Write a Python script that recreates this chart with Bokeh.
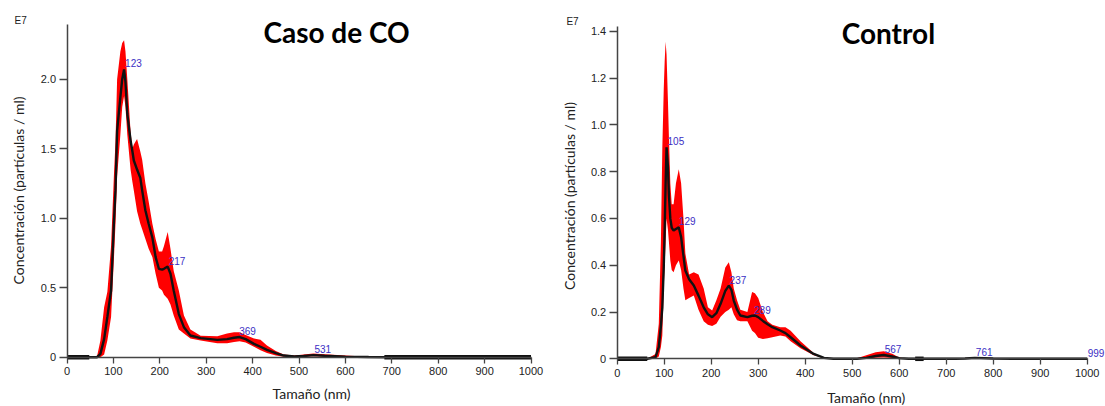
import math
from bokeh.plotting import figure
from bokeh.layouts import row
from bokeh.models import Range1d, FixedTicker, Label, LinearAxis, PrintfTickFormatter
from bokeh.embed import file_html
from bokeh.resources import INLINE

# ---------------- data: Caso de CO (concentration, x1e7 particles/ml) ----------------
co_size = [0, 50, 65, 72, 80, 87, 95, 101, 104.5, 108, 115, 119, 123, 126, 130, 137, 141, 144,
           151, 158, 162, 169, 176, 184, 191, 198, 205, 209, 217, 223, 230, 241, 252, 266, 288,
           324, 345, 360, 372, 385, 403, 417, 431, 450, 467, 490, 510, 531, 555, 600, 650, 700, 1000]
co_mean = [0, 0, 0, 0.024, 0.13, 0.29, 0.48, 0.96, 1.2, 1.63, 1.87, 2.0, 2.07, 1.98, 1.75, 1.56, 1.48, 1.415,
           1.35, 1.29, 1.2, 1.055, 0.96, 0.86, 0.72, 0.636, 0.63, 0.636, 0.652, 0.6, 0.48, 0.31, 0.216, 0.156, 0.137,
           0.125, 0.13, 0.14, 0.145, 0.13, 0.096, 0.075, 0.053, 0.03, 0.012, 0.005, 0.009, 0.015, 0.01, 0.004, 0.001, 0, 0]
co_upper = [0, 0, 0.01, 0.12, 0.36, 0.47, 0.8, 1.3, 1.55, 2.0, 2.2, 2.26, 2.28, 2.2, 2.0, 1.62, 1.5, 1.53,
            1.57, 1.48, 1.42, 1.25, 1.12, 0.96, 0.85, 0.76, 0.76, 0.8, 0.9, 0.78, 0.62, 0.48, 0.3, 0.2, 0.155,
            0.15, 0.17, 0.18, 0.18, 0.16, 0.135, 0.125, 0.085, 0.045, 0.02, 0.012, 0.02, 0.027, 0.022, 0.012, 0.004, 0, 0]
co_lower = [0, 0, 0, 0, 0.02, 0.12, 0.29, 0.7, 0.96, 1.3, 1.6, 1.8, 1.88, 1.8, 1.6, 1.35, 1.26, 1.2,
            1.05, 0.96, 0.92, 0.85, 0.78, 0.72, 0.6, 0.5, 0.48, 0.45, 0.42, 0.38, 0.3, 0.2, 0.17, 0.135, 0.12,
            0.1, 0.1, 0.11, 0.115, 0.105, 0.075, 0.05, 0.03, 0.012, 0.004, 0.002, 0.003, 0.006, 0.004, 0.001, 0, 0, 0]
co_flat_start = [0, 684]
co_flat_end = [48, 1000]
co_peaks = [123, 217, 369, 531]
co_peak_vals = [2.07, 0.652, 0.145, 0.015]

# ---------------- data: Control ----------------
ct_size = [0, 64, 81.5, 88.5, 93, 96, 99, 101, 103, 105, 108, 110, 113, 116, 120, 125, 131, 136, 141, 145,
           153, 163, 173, 184, 193, 202, 211, 220, 230, 237.5, 243, 248, 255, 262, 277, 287, 293, 300, 310,
           320, 330, 347, 358, 369, 390, 418, 440, 460, 510, 530, 550, 567, 585, 600, 620, 720, 740, 761,
           800, 840, 1000]
ct_mean = [0, 0, 0.007, 0.05, 0.14, 0.22, 0.39, 0.55, 0.75, 0.904, 0.82, 0.7, 0.6, 0.56, 0.548, 0.555, 0.562, 0.52, 0.44, 0.377,
           0.34, 0.313, 0.27, 0.22, 0.19, 0.178, 0.195, 0.235, 0.29, 0.313, 0.295, 0.249, 0.21, 0.185, 0.178, 0.184, 0.185, 0.178, 0.162,
           0.148, 0.135, 0.121, 0.11, 0.092, 0.057, 0.021, 0.004, 0, 0, 0.004, 0.012, 0.016, 0.01, 0.003, 0, 0, 0.001, 0.004,
           0.001, 0, 0]
ct_upper = [0, 0, 0.02, 0.15, 0.5, 0.9, 1.15, 1.27, 1.355, 1.3, 1.1, 0.95, 0.75, 0.66, 0.66, 0.75, 0.81, 0.75, 0.6, 0.45,
            0.36, 0.37, 0.36, 0.3, 0.22, 0.206, 0.25, 0.3, 0.39, 0.413, 0.37, 0.3, 0.25, 0.21, 0.2, 0.285, 0.28, 0.26, 0.2,
            0.16, 0.145, 0.135, 0.135, 0.12, 0.075, 0.025, 0.005, 0, 0.002, 0.015, 0.028, 0.032, 0.022, 0.006, 0, 0, 0.003, 0.006,
            0.003, 0, 0]
ct_lower = [0, 0, 0, 0.01, 0.05, 0.1, 0.3, 0.4, 0.5, 0.6, 0.55, 0.5, 0.42, 0.38, 0.37, 0.4, 0.42, 0.38, 0.3, 0.25,
            0.26, 0.27, 0.21, 0.16, 0.145, 0.14, 0.15, 0.18, 0.2, 0.21, 0.22, 0.19, 0.165, 0.16, 0.16, 0.12, 0.11, 0.09, 0.085,
            0.088, 0.092, 0.1, 0.095, 0.075, 0.045, 0.015, 0.002, 0, 0, 0, 0.004, 0.006, 0.003, 0, 0, 0, 0, 0.001,
            0, 0, 0]
ct_flat_start = [0, 634]
ct_flat_end = [64, 652]
ct_peaks = [105, 129, 237, 289, 567, 761, 999]
ct_peak_vals = [0.904, 0.562, 0.313, 0.185, 0.016, 0.004, 0.0]

x_ticks = [0, 100, 200, 300, 400, 500, 600, 700, 800, 900, 1000]
co_yticks = [0, 0.5, 1.0, 1.5, 2.0]
ct_yticks = [0, 0.2, 0.4, 0.6, 0.8, 1.0, 1.2, 1.4]

TICK_FONT = "Liberation Sans"
LABEL_FONT = "Lato"
PEAK_COLOR = "#3b2fc4"


def make_fig(width, x0, x1, y0, y1, ytop, yticks):
    # the frame covers the whole canvas; axes are drawn at x=0 / y=0
    p = figure(width=width, height=406, x_range=Range1d(x0, x1), y_range=Range1d(y0, y1),
               output_backend="svg", toolbar_location=None,
               x_axis_location=None, y_axis_location=None,
               min_border=0, min_border_left=0, min_border_right=0,
               min_border_top=0, min_border_bottom=0)
    p.grid.visible = False
    p.outline_line_color = None
    p.background_fill_color = "white"
    p.border_fill_color = "white"
    xa = LinearAxis(fixed_location=0, bounds=(0, 1000), ticker=FixedTicker(ticks=x_ticks))
    ya = LinearAxis(fixed_location=0, bounds=(0, ytop), ticker=FixedTicker(ticks=yticks),
                    formatter=PrintfTickFormatter(format="%.1f"))
    for ax in (xa, ya):
        ax.axis_line_color = "#444444"
        ax.axis_line_width = 1.5
        ax.major_tick_line_color = "#444444"
        ax.major_tick_line_width = 1.3
        ax.minor_tick_line_color = None
        ax.major_tick_in = 0
        ax.major_label_text_font = TICK_FONT
        ax.major_label_text_font_size = "11px"
        ax.major_label_text_color = "#222222"
    xa.major_tick_out = 6
    xa.major_label_standoff = 4
    ya.major_tick_out = 8
    ya.major_label_standoff = 3
    ya.major_label_overrides = {0: "0"}
    p.add_layout(xa, "below")
    p.add_layout(ya, "left")
    return p


def draw(p, xs, mean, upper, lower, fs, fe, peaks, pvals):
    p.varea(x=xs, y1=lower, y2=upper, fill_color="#ff0000", fill_alpha=1.0)
    p.line(x=xs, y=mean, line_color="#111111", line_width=2.4)
    p.segment(x0=fs, y0=[0] * len(fs), x1=fe, y1=[0] * len(fe), line_color="#111111", line_width=4.5)
    p.text(x=peaks, y=pvals, text=[str(v) for v in peaks], text_color=PEAK_COLOR,
           text_font_size="10px", text_align="left", text_baseline="middle",
           x_offset=1, y_offset=-6)


def labels(p, e7, title, xlab, ylab):
    p.add_layout(Label(x=e7[0], y=e7[1], text="E7", text_font=TICK_FONT, text_font_size="10px",
                       text_align="center", text_baseline="middle", text_color="#222222"))
    p.add_layout(Label(x=title[0], y=title[1], text=title[2], text_font=LABEL_FONT, text_font_style="bold",
                       text_font_size="28px", text_align="center", text_baseline="middle", text_color="black"))
    p.add_layout(Label(x=xlab[0], y=xlab[1], text="Tamaño (nm)", text_font=LABEL_FONT, text_font_size="14px",
                       text_align="center", text_baseline="middle", text_color="#222222"))
    p.add_layout(Label(x=ylab[0], y=ylab[1], text="Concentración (partículas / ml)", text_font=LABEL_FONT,
                       text_font_size="14px", angle=math.pi / 2, text_align="center", text_baseline="middle",
                       text_color="#222222"))


# left figure: x=0 at px 66.5, 0.464 px/nm ; y=0 at px 356.7, 139 px/unit
p1 = make_fig(555, -66.5 / 0.464, (555 - 66.5) / 0.464, -(406 - 356.7) / 139, 356.7 / 139, 2.391, co_yticks)
draw(p1, co_size, co_mean, co_upper, co_lower, co_flat_start, co_flat_end, co_peaks, co_peak_vals)
labels(p1, (-100, 2.425), (581, 2.336, "Caso de CO"), (527, -0.261), (-104.5, 1.199))

# right figure: x=0 at px 61.7, 0.47 px/nm ; y=0 at px 358.3, 234 px/unit
p2 = make_fig(550, -61.7 / 0.47, (550 - 61.7) / 0.47, -(406 - 358.3) / 234, 358.3 / 234, 1.421, ct_yticks)
draw(p2, ct_size, ct_mean, ct_upper, ct_lower, ct_flat_start, ct_flat_end, ct_peaks, ct_peak_vals)
labels(p2, (-95, 1.44), (577, 1.394, "Control"), (530, -0.165), (-101.5, 0.696))

layout = row(p1, p2)
open("out.html", "w").write(file_html(layout, INLINE))
